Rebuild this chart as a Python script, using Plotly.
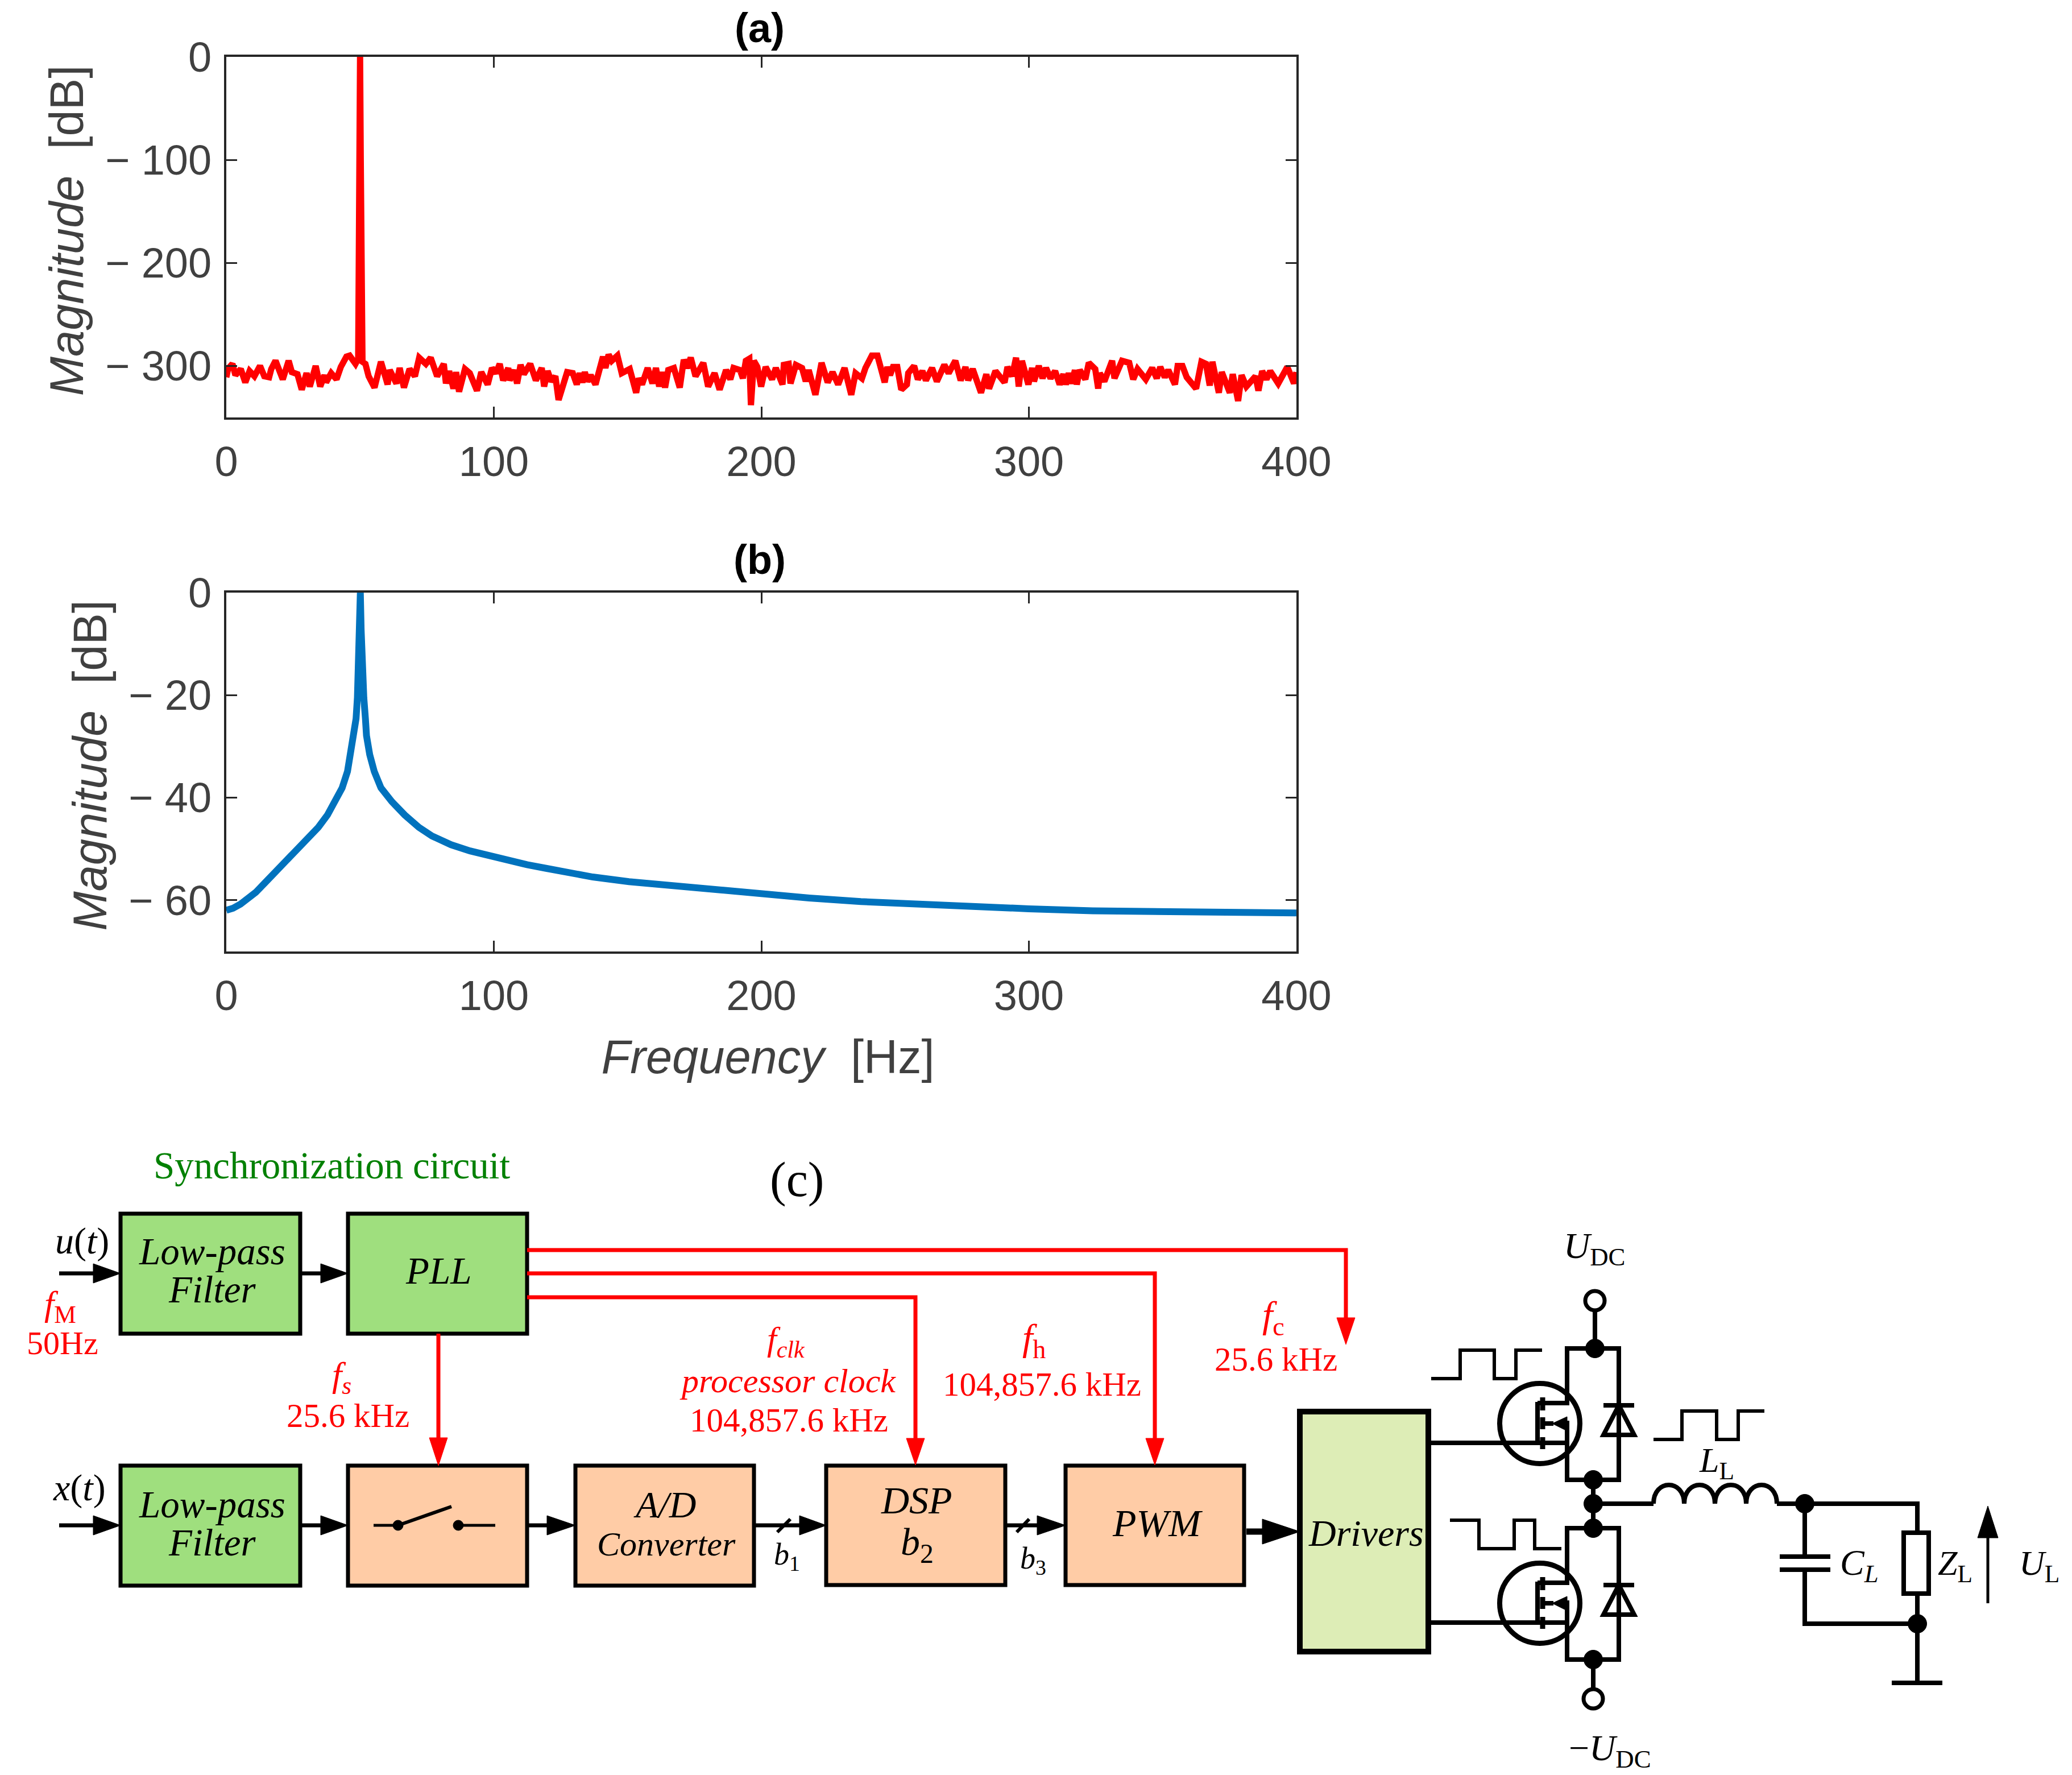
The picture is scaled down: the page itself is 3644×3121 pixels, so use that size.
import plotly.graph_objects as go

# ---------- spectrum data ----------
freq_a = [0,0.7,2.3,3.4,5.4,7.1,8.7,10.5,12.6,14.2,16.0,16.8,18.4,21.1,23.3,24.5,26.6,28.2,30.0,31.2,33.4,35.1,36.7,37.3,39.2,41.2,42.8,44.9,46.1,48.3,
 49.3,49.75,50,50.25,50.9,
 52.0,53.2,55.4,57.8,60.3,61.1,63.6,64.8,66.4,68.5,70.5,72.1,74.6,76.4,78.8,81.3,82.1,83.3,84.9,85.9,87.0,89.2,91.0,93.7,95.3,97.7,99.3,100.8,102.2,103.5,105.4,105.9,107.5,108.7,110.0,111.2,113.6,115.7,117.9,118.8,120.1,121.5,123.0,124.2,126.4,127.4,129.5,131.0,132.1,133.1,134.0,135.0,136.2,138.0,140.8,141.7,142.9,144.1,146.2,147.8,150.8,153.2,154.2,155.4,157.5,159.3,160.6,161.8,163.0,164.0,165.2,167.3,169.5,171.0,172.2,173.6,175.4,178.3,180.1,182.5,184.4,186.8,188.4,189.6,
 192.0,193.1,194.2,195.5,196.1,197.2,198.5,199.9,201.6,204.0,205.4,207.9,208.4,210.2,210.9,212.9,215.2,216.6,217.7,220.2,222.5,224.8,226.6,228.7,231.1,233.6,235.2,237.6,238.9,241.3,243.4,246.1,247.1,248.1,249.2,250.8,252.3,254.4,254.9,257.1,258.5,260.2,261.5,263.8,265.6,268.4,270.0,272.5,274.5,276.3,277.3,279.0,282.1,284.1,285.1,287.5,290.9,292.0,293.7,295.2,296.2,297.4,299.8,301.2,301.9,303.7,305.1,306.4,308.1,309.8,311.5,312.9,313.8,314.9,316.0,317.2,317.9,319.0,321.1,322.4,324.8,325.9,326.5,328.2,331.1,332.0,334.8,337.5,339.0,340.6,343.7,346.1,347.8,349.1,350.8,352.1,354.6,355.6,357.4,359.0,362.5,364.5,366.2,367.6,368.6,371.0,372.1,375.1,376.2,378.2,379.5,381.3,384.7,385.8,387.2,388.8,390.2,393.2,396.6,399.1,400]
mag_a = [-311,-302.5,-298,-309,-303,-316,-305,-310,-300,-310,-311,-303,-295,-313,-295,-306,-308,-323,-307,-320,-300,-320,-309,-316,-307,-313,-301,-291,-290,-298,
 -293,-100,0,-100,-296,
 -298,-310,-321,-296,-318,-304,-317,-302,-321,-303,-310,-292,-298,-292,-310,-298,-317,-305,-322,-306,-325,-303,-307,-324,-306,-318,-302,-307,-298,-314,-302,-314,-304,-317,-299,-308,-298,-314,-302,-320,-305,-315,-310,-333,-311,-306,-307,-318,-307,-316,-306,-315,-309,-318,-291,-302,-289,-295,-290,-307,-303,-326,-312,-318,-302,-317,-302,-320,-306,-321,-304,-302,-321,-294,-302,-292,-310,-297,-320,-307,-323,-304,-313,-302,
 -304,-312,-295,-293,-338,-295,-301,-320,-301,-313,-302,-318,-299,-298,-317,-299,-302,-315,-304,-328,-297,-316,-306,-318,-302,-328,-307,-312,-302,-290,-290,-316,-301,-309,-301,-301,-323,-318,-307,-300,-313,-305,-314,-302,-315,-299,-307,-295,-314,-301,-314,-303,-326,-308,-322,-305,-316,-301,-310,-292,-320,-295,-318,-302,-315,-300,-312,-302,-312,-305,-318,-308,-318,-307,-317,-304,-318,-304,-313,-297,-303,-322,-307,-315,-295,-312,-295,-297,-313,-303,-313,-302,-312,-301,-311,-304,-318,-300,-300,-311,-322,-296,-298,-319,-296,-326,-306,-326,-308,-334,-309,-320,-310,-324,-305,-313,-305,-317,-301,-317,-306]

freq_b = [0,2.5,5.3,8.1,11.0,14.5,18.1,21.6,25.2,28.7,32.2,34.4,37.8,40.8,43.3,45.3,46.5,47.9,48.5,49.0,49.5,49.8,50.1,50.4,50.8,51.4,52.0,52.4,53.6,55.3,57.8,61.9,66.7,72.0,76.9,84.0,91.1,98.2,105.3,112.4,119.5,125.5,137,150.5,166,183.3,200,217.9,237.2,256.4,275.7,300,323.8,348.8,371.9,400]
mag_b = [-62.0,-61.6,-60.8,-59.8,-58.5,-56.6,-54.7,-52.9,-51.0,-49.1,-47.3,-45.8,-43.4,-40.8,-38.1,-34.9,-31.6,-27.9,-24.6,-20.5,-14.6,-7.2,0,-7.2,-14.6,-20.5,-24.6,-27.9,-31.6,-34.9,-38.1,-40.8,-43.4,-45.8,-47.5,-49.2,-50.4,-51.4,-52.3,-53.1,-53.8,-54.4,-55.5,-56.4,-57.2,-58.1,-59.0,-59.6,-60.3,-60.8,-61.3,-61.7,-62.1,-62.3,-62.4,-62.5]

x_ticks = [0, 100, 200, 300, 400]
x_labels = ["0", "100", "200", "300", "400"]
ya_ticks = [0, -100, -200, -300]
ya_labels = ["0", "\u2212 100", "\u2212 200", "\u2212 300"]
yb_ticks = [0, -20, -40, -60]
yb_labels = ["0", "\u2212 20", "\u2212 40", "\u2212 60"]

# ---------- schematic geometry, in page pixels ----------
GREEN, PEACH, PALE = "#9FDF7E", "#FFCCA6", "#DDEDB6"
blocks = [(212,2134,528,2345,GREEN),(612,2134,927,2345,GREEN),(212,2577,528,2788,GREEN),
          (612,2577,927,2788,PEACH),(1012,2577,1326,2788,PEACH),(1453,2577,1768,2787,PEACH),(1874,2577,2188,2787,PEACH)]
black_wires = [[(104,2239),(170,2239)],[(528,2239),(570,2239)],[(104,2682),(170,2682)],[(528,2682),(570,2682)],
               [(927,2682),(968,2682)],[(1326,2682),(1412,2682)],[(1768,2682),(1830,2682)]]
black_heads = [(164,2239,212),(564,2239,612),(164,2682,212),(564,2682,612),(962,2682,1012),(1406,2682,1453),(1824,2682,1874)]
red_wires = [[(927,2198),(2367,2198),(2367,2325)],[(927,2239),(2031,2239),(2031,2535)],
             [(927,2281),(1610,2281),(1610,2535)],[(771,2345),(771,2535)]]
red_heads = [(2367,2317,2364),(2031,2529,2576),(1610,2529,2576),(771,2528,2577)]
pulses = [[(2517,2424),(2568,2424),(2568,2374),(2628,2374),(2628,2424),(2666,2424),(2666,2374),(2712,2374)],
          [(2908,2531),(2958,2531),(2958,2481),(3019,2481),(3019,2531),(3057,2531),(3057,2481),(3103,2481)],
          [(2550,2673),(2601,2673),(2601,2723),(2663,2723),(2663,2673),(2699,2673),(2699,2723),(2746,2723)]]
power_wires = [[(2805,2303),(2805,2371)],[(2802,2602),(2802,2687)],[(2802,2644),(2908,2644)],[(2802,2918),(2802,2970)],
               [(3125,2644),(3372,2644),(3372,2695)],[(3372,2802),(3372,2959)],[(3327,2959),(3416,2959)],
               [(3174,2644),(3174,2737)],[(3130,2737),(3219,2737)],[(3130,2760),(3219,2760)],[(3174,2760),(3174,2855),(3372,2855)]]
nodes = [(2805,2371),(2802,2602),(2802,2644),(2802,2687),(2802,2918),(3174,2644),(3372,2855)]
terminals = [(2805,2287),(2802,2987)]
mos_y = [2503, 2819]
letters = [
    (583,2049,"Synchronization circuit",67,"#008000"),(1401,2074,"(c)",86,"black"),
    (144,2182,"<i>u</i>(<i>t</i>)",66,"black"),(139,2616,"<i>x</i>(<i>t</i>)",66,"black"),
    (106,2296,"<i>f</i><sub>M</sub>",62,"red"),(110,2361,"50Hz",58,"red"),
    (373,2200,"<i>Low-pass</i>",67,"black"),(373,2267,"<i>Filter</i>",67,"black"),
    (373,2645,"<i>Low-pass</i>",67,"black"),(373,2712,"<i>Filter</i>",67,"black"),
    (771,2234,"<i>PLL</i>",67,"black"),
    (601,2421,"<i>f<sub>s</sub></i>",62,"red"),(612,2489,"25.6 kHz",59,"red"),
    (1169,2645,"<i>A/D</i>",66,"black"),(1172,2715,"<i>Converter</i>",60,"black"),
    (1382,2358,"<i>f<sub>clk</sub></i>",60,"red"),(1385,2428,"<i>processor clock</i>",60,"red"),
    (1387,2497,"104,857.6 kHz",59,"red"),(1818,2356,"<i>f</i><sub>h</sub>",66,"red"),
    (1832,2434,"104,857.6 kHz",59,"red"),(2239,2316,"<i>f</i><sub>c</sub>",66,"red"),(2244,2390,"25.6 kHz",59,"red"),
    (1612,2638,"<i>DSP</i>",68,"black"),(1613,2715,"<i>b</i><sub>2</sub>",68,"black"),
    (2035,2678,"<i>PWM</i>",68,"black"),(1384,2736,"<i>b</i><sub>1</sub>",54,"black"),(1817,2743,"<i>b</i><sub>3</sub>",54,"black"),
    (2402,2695,"<i>Drivers</i>",66,"black"),
    (2804,2195,"<i>U</i><sub>DC</sub>",64,"black"),(2831,3078,"\u2212<i>U</i><sub>DC</sub>",64,"black"),
    (3019,2571,"<i>L</i><sub>L</sub>",62,"black"),(3270,2752,"<i>C<sub>L</sub></i>",64,"black"),
    (3438,2752,"<i>Z</i><sub>L</sub>",62,"black"),(3586,2752,"<i>U</i><sub>L</sub>",62,"black"),
]

W, H = 3644, 3121
SANS, SERIF = "Liberation Sans", "Liberation Serif"
INK, AXIS = "#404040", "#262626"
shapes = []

def S(**k):
    shapes.append(dict(xref="x3", yref="y3", layer="above", **k))

def pl(points, color="black", width=7, close=False, fill=None):
    d = "M" + " L".join(f"{x},{y}" for x, y in points) + (" Z" if close else "")
    S(type="path", path=d, line=dict(color=color, width=width), fillcolor=fill or "rgba(0,0,0,0)")

def tri(points, color):
    pl(points, color=color, width=1, close=True, fill=color)

def dot(x, y, r, fill="black", stroke="black", w=1):
    S(type="circle", x0=x-r, x1=x+r, y0=y-r, y1=y+r, fillcolor=fill, line=dict(color=stroke, width=w))

def box(x0, y0, x1, y1, fill, w=7):
    S(type="rect", x0=x0, x1=x1, y0=y0, y1=y1, fillcolor=fill, line=dict(color="black", width=w))

for b in blocks:
    box(*b[:4], b[4])
box(2286, 2482, 2512, 2904, PALE, w=10)

# wires and arrow heads
for w_ in black_wires:
    pl(w_)
for x0, y, x1 in black_heads:
    tri([(x0,y-17),(x1,y),(x0,y+17)], "black")
for w_ in red_wires:
    pl(w_, color="red")
for x, y0, y1 in red_heads:
    tri([(x-16,y0),(x+16,y0),(x,y1)], "red")
pl([(2192,2693),(2228,2693)], width=11)
tri([(2220,2671),(2286,2693),(2220,2715)], "black")

# switch and bus slashes
pl([(657,2682),(700,2682)], width=5); pl([(700,2682),(794,2649)], width=6); pl([(806,2682),(871,2682)], width=5)
dot(700,2682,9); dot(806,2682,9)
pl([(1367,2694),(1390,2671)], width=6); pl([(1788,2694),(1810,2671)], width=6)

# power stage
for p in pulses:
    pl(p, width=6)
for y in mos_y:
    o = y - 2503
    pl([(2512,2537+o),(2756,2537+o)], width=8)
    pl([(2756,2498+o),(2756,2602+o),(2847,2602+o),(2847,2371+o),(2756,2371+o),(2756,2471+o)], width=8)
    dot(2708,y,70.5,fill="rgba(0,0,0,0)",w=9)
    pl([(2704,2537+o),(2704,2465+o)], width=8)
    for a, b_ in ((2457,2480),(2492,2513),(2527,2548)):
        pl([(2713,a+o),(2713,b_+o)], width=9)
    pl([(2704,2467+o),(2756,2467+o)], width=8)
    pl([(2713,2503+o),(2732,2503+o)], width=8)
    tri([(2730,2503+o),(2756,2491+o),(2756,2516+o)], "black")
    pl([(2847,2471+o),(2820,2523+o),(2874,2523+o)], width=8, close=True)
    pl([(2820,2471+o),(2874,2471+o)], width=8)
for w_ in power_wires:
    pl(w_, width=8)
coil = "M2908,2644 " + " ".join(f"C{x},{2600} {x+54},{2600} {x+54},2644" for x in (2908,2962,3017,3071))
S(type="path", path=coil, line=dict(color="black", width=8), fillcolor="rgba(0,0,0,0)")
box(3348,2695,3392,2802,"white",w=8)
pl([(3496,2819),(3496,2700)], width=5)
tri([(3478,2704),(3514,2704),(3496,2648)], "black")
for x, y in nodes:
    dot(x, y, 16.5)
for x, y in terminals:
    dot(x, y, 17, fill="white", w=7)

annotations = [dict(x=x, y=y, text=t, xref="x3", yref="y3", showarrow=False, xanchor="center", yanchor="middle",
                    font=dict(family=SERIF, size=s, color=c)) for x, y, t, s, c in letters]
annotations += [dict(x=1336, y=y, text=f"<b>{t}</b>", xref="x3", yref="y3", showarrow=False, xanchor="center", yanchor="middle",
                     font=dict(family=SANS, size=72, color="black")) for y, t in ((49,"(a)"),(984,"(b)"))]

fig = go.Figure()
fig.add_trace(go.Scatter(x=freq_a, y=mag_a, mode="lines", xaxis="x", yaxis="y", hoverinfo="skip",
                         line=dict(color="#FF0000", width=11), showlegend=False))
fig.add_trace(go.Scatter(x=freq_b, y=mag_b, mode="lines", xaxis="x2", yaxis="y2", hoverinfo="skip",
                         line=dict(color="#0072BD", width=12), showlegend=False))
fig.add_trace(go.Scatter(x=[0], y=[0], mode="none", xaxis="x3", yaxis="y3", hoverinfo="skip", showlegend=False))

def ax(standoff, **k):
    return dict(showline=True, mirror="ticks", linewidth=4, linecolor=AXIS, ticks="inside", ticklen=19, tickwidth=3,
                tickcolor=AXIS, showgrid=False, zeroline=False, tickmode="array", color=INK, automargin=False,
                ticklabelstandoff=standoff, tickfont=dict(family=SANS, size=74, color=INK), **k)

title_font = dict(family=SANS, size=83, color=INK)
PAD = "\u200b\u00a0"
DX = [398/W, 2280/W]
fig.update_layout(
    width=W, height=H, autosize=False, margin=dict(l=0, r=0, t=0, b=0), paper_bgcolor="white", plot_bgcolor="rgba(0,0,0,0)",
    xaxis=ax(10, domain=DX, range=[0,400], anchor="y", tickvals=x_ticks, ticktext=x_labels),
    yaxis=ax(7, domain=[1-734/H, 1-100/H], range=[-350,0], anchor="x", tickvals=ya_ticks, ticktext=ya_labels,
             title=dict(text=PAD+"<i>Magnitude</i>  [dB]", font=title_font, standoff=12)),
    xaxis2=ax(10, domain=DX, range=[0,400], anchor="y2", tickvals=x_ticks, ticktext=x_labels,
              title=dict(text=PAD+"<i>Frequency</i>  [Hz]", font=title_font, standoff=39)),
    yaxis2=ax(7, domain=[1-1672.7/H, 1-1042/H], range=[-70,0], anchor="x2", tickvals=yb_ticks, ticktext=yb_labels,
              title=dict(text=PAD+"<i>Magnitude</i>  [dB]", font=title_font, standoff=12)),
    xaxis3=dict(domain=[0,1], range=[0,W], visible=False, anchor="y3", fixedrange=True, automargin=False),
    yaxis3=dict(domain=[0,1], range=[H,0], visible=False, anchor="x3", fixedrange=True, automargin=False),
    shapes=shapes, annotations=annotations,
)
fig.write_html("out.html", config=dict(displayModeBar=False), post_script="document.body.style.margin='0';")
